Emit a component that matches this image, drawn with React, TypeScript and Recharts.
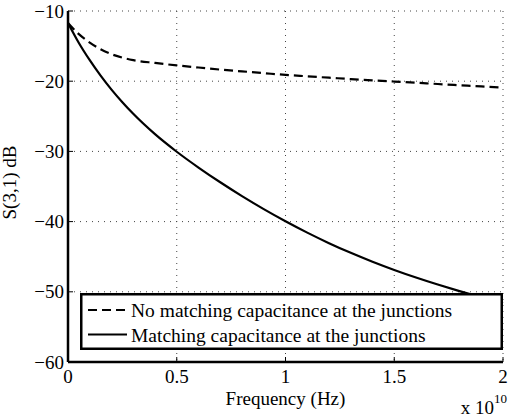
import React from 'react';
import { LineChart, Line, XAxis, YAxis, CartesianGrid, Legend } from 'recharts';

const frequency = [0, 0.05, 0.1, 0.15, 0.2, 0.25, 0.3, 0.4, 0.5, 0.6, 0.7, 0.8, 0.9, 1.0, 1.1, 1.2, 1.3, 1.4, 1.5, 1.6, 1.7, 1.8, 1.9, 2.0];
const noMatching = [-11.7, -13.3, -14.5, -15.45, -16.15, -16.65, -17.0, -17.4, -17.75, -18.05, -18.35, -18.6, -18.85, -19.1, -19.3, -19.5, -19.7, -19.88, -20.05, -20.22, -20.4, -20.57, -20.74, -20.9];
const matching = [-11.7, -14.55, -17.0, -19.2, -21.2, -23.0, -24.65, -27.55, -30.05, -32.3, -34.4, -36.37, -38.22, -39.95, -41.57, -43.07, -44.45, -45.72, -46.89, -47.97, -48.97, -49.91, -50.79, -51.62];
const xTicks = [0, 0.5, 1, 1.5, 2];
const yTicks = [-60, -50, -40, -30, -20, -10];
const seriesNames = ['No matching capacitance at the junctions', 'Matching capacitance at the junctions'];
const xLabel = 'Frequency (Hz)';
const yLabel = 'S(3,1) dB';

const data = frequency.map((f, i) => ({ f, a: noMatching[i], b: matching[i] }));

const FONT = 'Liberation Serif';
const FS = 19;
const fmt = (v: number) => String(v).replace('-', '\u2212');

function LeftTick(props: any) {
  const { x, y, payload } = props;
  return (
    <g>
      <text x={x} y={y} dy={6.5} textAnchor="end" fontFamily={FONT} fontSize={FS} fill="#000">{fmt(payload.value)}</text>
      <line x1={x + 4} x2={x + 9} y1={y} y2={y} stroke="#000" strokeWidth={1} />
    </g>
  );
}
function RightTick(props: any) {
  const { x, y } = props;
  return <line x1={x - 5} x2={x} y1={y} y2={y} stroke="#000" strokeWidth={1} />;
}
function BottomTick(props: any) {
  const { x, y, payload } = props;
  return (
    <g>
      <text x={x} y={y} dy={13} textAnchor="middle" fontFamily={FONT} fontSize={FS} fill="#000">{fmt(payload.value)}</text>
      <line x1={x} x2={x} y1={y - 8} y2={y - 13} stroke="#000" strokeWidth={1} />
    </g>
  );
}
function TopTick(props: any) {
  const { x, y } = props;
  return <line x1={x} x2={x} y1={y} y2={y + 5} stroke="#000" strokeWidth={1} />;
}

function XLabel(props: any) {
  const vb = props.viewBox || {};
  return (
    <g>
      <text x={vb.x + vb.width / 2} y={vb.y + 43} textAnchor="middle" fontFamily={FONT} fontSize={FS} fill="#000">{xLabel}</text>
      <text x={507} y={414} textAnchor="end" fontFamily={FONT} fontSize={FS} fill="#000">
        x 10<tspan dy={-11} fontSize={13}>10</tspan>
      </text>
    </g>
  );
}
function YLabel(props: any) {
  const vb = props.viewBox || {};
  const cx = 16;
  const cy = vb.y + vb.height / 2 - 4;
  return (
    <text x={cx} y={cy} transform={`rotate(-90 ${cx} ${cy})`} textAnchor="middle" fontFamily={FONT} fontSize={FS} fill="#000">{yLabel}</text>
  );
}

function LegendBox() {
  return (
    <svg width={423} height={57} style={{ display: 'block' }}>
      <rect x={1.25} y={1.25} width={420.5} height={54.5} fill="#fff" stroke="#000" strokeWidth={2.5} />
      <line x1={8} x2={47} y1={17} y2={17} stroke="#000" strokeWidth={2.2} strokeDasharray="9 5" />
      <text x={51} y={23.5} fontFamily={FONT} fontSize={19.5} fill="#000">{seriesNames[0]}</text>
      <line x1={8} x2={47} y1={41.5} y2={41.5} stroke="#000" strokeWidth={2.2} />
      <text x={51} y={48.5} fontFamily={FONT} fontSize={19.5} fill="#000">{seriesNames[1]}</text>
    </svg>
  );
}

export default function App() {
  return (
    <div style={{ position: 'absolute', left: 0, top: 0, background: '#fff' }}>
      <LineChart width={509} height={416} data={data} margin={{ top: 11, right: 6, bottom: 24, left: 8 }}>
        <CartesianGrid xAxisId="b" yAxisId="l" stroke="#444" strokeDasharray="1 5" strokeWidth={1} />
        <XAxis xAxisId="b" dataKey="f" type="number" domain={[0, 2]} ticks={xTicks} height={30}
          axisLine={{ stroke: '#000', strokeWidth: 2.5 }} tickLine={false} tickSize={0} tickMargin={8}
          tick={<BottomTick />} interval={0} label={<XLabel />} />
        <XAxis xAxisId="t" orientation="top" dataKey="f" type="number" domain={[0, 2]} ticks={xTicks} height={0}
          axisLine={{ stroke: '#000', strokeWidth: 2.5 }} tickLine={false} tickSize={0} tickMargin={0}
          tick={<TopTick />} interval={0} />
        <YAxis yAxisId="l" type="number" domain={[-60, -10]} ticks={yTicks} width={60}
          axisLine={{ stroke: '#000', strokeWidth: 2.5 }} tickLine={false} tickSize={0} tickMargin={4}
          tick={<LeftTick />} interval={0} label={<YLabel />} />
        <YAxis yAxisId="r" orientation="right" type="number" domain={[-60, -10]} ticks={yTicks} width={0}
          axisLine={{ stroke: '#000', strokeWidth: 2.5 }} tickLine={false} tickSize={0} tickMargin={0}
          tick={<RightTick />} interval={0} />
        <Line xAxisId="b" yAxisId="l" type="monotone" dataKey="a" name={seriesNames[0]} stroke="#000" strokeWidth={2.2}
          strokeDasharray="9 5" dot={false} isAnimationActive={false} />
        <Line xAxisId="b" yAxisId="l" type="monotone" dataKey="b" name={seriesNames[1]} stroke="#000" strokeWidth={2.2}
          dot={false} isAnimationActive={false} />
        <Legend layout="vertical" align="center" verticalAlign="middle"
          wrapperStyle={{ position: 'absolute', left: 80, top: 293, width: 423, height: 57 }}
          content={() => <LegendBox />} />
      </LineChart>
    </div>
  );
}
